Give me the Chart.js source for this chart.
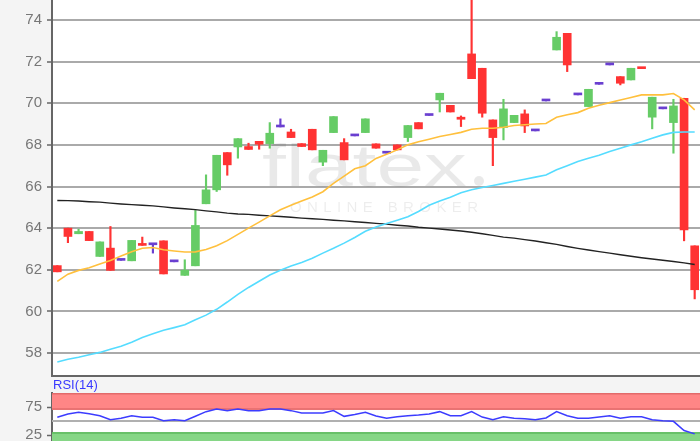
<!DOCTYPE html>
<html><head><meta charset="utf-8">
<script src="https://cdn.jsdelivr.net/npm/chart.js@4/dist/chart.umd.min.js"></script>
<style>
html,body{margin:0;padding:0;background:#f4f4f4;width:700px;height:441px;overflow:hidden;font-family:"Liberation Sans",Arial,sans-serif}
#main{position:absolute;left:0;top:0;width:700px;height:377px}
#rsi{position:absolute;left:0;top:378px;width:700px;height:80px}
#rsiLabel{position:absolute;left:53px;top:377px;font-size:13px;line-height:15px;color:#3a3aff}
</style></head><body>
<canvas id="main" width="700" height="377"></canvas>
<canvas id="rsi" width="700" height="80"></canvas>
<div id="rsiLabel">RSI(14)</div>
<script>
const sessions = [1,2,3,4,5,6,7,8,9,10,11,12,13,14,15,16,17,18,19,20,21,22,23,24,25,26,27,28,29,30,31,32,33,34,35,36,37,38,39,40,41,42,43,44,45,46,47,48,49,50,51,52,53,54,55,56,57,58,59,60,61];
const opens  = [62.2,64.0,63.73,63.84,62.64,63.04,62.45,62.43,63.26,63.2,63.39,62.38,61.73,62.19,65.17,65.84,67.63,67.9,67.92,68.17,68.06,68.86,68.62,68.06,68.75,67.17,68.59,68.11,68.43,68.59,68.05,67.6,68.0,68.35,69.07,69.41,70.16,69.9,69.33,72.37,71.68,69.2,68.83,69.07,69.49,68.67,70.11,72.56,73.36,70.4,69.84,70.91,71.84,71.28,71.12,71.7,69.33,69.73,69.07,70.24,63.15];
const closes = [61.9,63.6,63.84,63.4,63.34,61.97,62.45,63.41,63.17,63.2,61.8,62.38,61.98,64.13,65.84,67.5,67.04,68.3,67.78,68.03,68.56,68.86,68.35,67.92,67.76,67.74,69.36,67.28,68.43,69.25,67.84,67.6,67.76,68.93,68.77,69.41,70.48,69.58,69.23,71.18,69.52,68.35,69.73,69.42,68.91,68.67,70.11,73.17,71.84,70.4,70.67,70.91,71.84,70.96,71.68,71.66,70.29,69.73,69.87,63.92,61.04];
const highs  = [62.2,64.0,63.95,63.84,63.34,64.08,62.45,63.41,63.57,63.2,63.39,62.38,62.48,64.85,66.56,67.5,67.63,68.3,68.08,68.17,69.07,69.25,68.75,68.06,68.75,67.74,69.36,68.3,68.43,69.25,68.05,67.6,68.0,68.93,69.07,69.41,70.48,69.9,69.39,75.5,71.68,69.2,70.19,69.42,69.68,68.67,70.11,73.44,73.36,70.4,70.67,70.91,71.84,71.28,71.68,71.7,70.29,69.73,70.19,70.24,63.15];
const lows   = [61.9,63.3,63.73,63.4,62.64,61.97,62.45,62.43,63.17,62.8,61.8,62.38,61.73,62.19,65.17,65.76,66.54,67.36,67.78,67.79,67.84,68.86,68.35,67.92,67.76,67.0,68.59,67.28,68.43,68.59,67.84,67.6,67.76,68.16,68.77,69.41,69.58,69.58,68.88,71.18,69.33,67.0,68.24,69.07,68.59,68.67,70.11,72.56,71.52,70.4,69.84,70.91,71.84,70.88,71.12,71.66,68.77,69.73,67.6,63.39,60.6];
const ma20   = [61.44,61.79,61.97,62.1,62.28,62.45,62.66,62.87,63.03,63.07,62.96,62.9,62.85,62.86,62.97,63.15,63.4,63.7,64.0,64.29,64.59,64.88,65.1,65.3,65.5,65.75,66.15,66.5,66.85,67.0,67.35,67.55,67.76,68.0,68.15,68.27,68.4,68.5,68.6,68.75,68.8,68.8,68.85,68.93,68.97,69.0,69.03,69.33,69.45,69.55,69.76,69.9,70.03,70.16,70.28,70.4,70.4,70.4,70.47,70.16,69.68];
const ma50   = [57.57,57.7,57.8,57.92,58.03,58.18,58.33,58.52,58.74,58.92,59.09,59.22,59.36,59.6,59.82,60.1,60.45,60.82,61.15,61.45,61.75,61.98,62.18,62.35,62.55,62.8,63.03,63.28,63.55,63.85,64.05,64.22,64.38,64.55,64.8,65.1,65.3,65.48,65.7,65.84,65.95,66.05,66.15,66.25,66.35,66.45,66.55,66.8,67.0,67.2,67.36,67.5,67.68,67.84,68.0,68.15,68.32,68.48,68.6,68.62,68.62];
const ma200  = [65.33,65.32,65.3,65.27,65.25,65.2,65.16,65.13,65.1,65.07,65.02,64.97,64.93,64.89,64.83,64.78,64.72,64.68,64.66,64.62,64.59,64.56,64.52,64.48,64.45,64.42,64.38,64.35,64.31,64.27,64.23,64.19,64.14,64.1,64.04,64.0,63.96,63.91,63.86,63.8,63.73,63.65,63.57,63.52,63.45,63.38,63.3,63.22,63.12,63.03,62.95,62.87,62.8,62.72,62.65,62.58,62.52,62.46,62.4,62.33,62.25];
const rsi14  = [56.6,62.5,65.5,62.8,59.5,52.4,54.8,59.5,56.6,56.6,50.6,52.4,50.6,58.5,66.7,71.4,68.5,71.4,68.5,68.5,71.4,71.4,68.5,64.3,64.3,64.3,68.5,58.3,61.5,65.5,59.0,54.8,57.5,59.5,60.7,62.5,66.7,59.5,59.5,66.7,57.0,52.4,57.7,55.0,54.0,52.4,55.5,66.7,59.5,54.8,54.8,57.0,59.5,55.0,57.7,57.7,52.4,50.6,49.4,33.0,27.0];
const priceTicks = [58,60,62,64,66,68,70,72,74];
const rsiTicks = [25,75];
const rsiBands = {upper:70, lower:30, mid:50};

const UP='#66cc66', DOWN='#ff3333', FLAT='#6a3fd0';
const candleColor = ctx => {
  const i = ctx.dataIndex;
  const o = opens[i], c = closes[i];
  return c > o ? UP : (c < o ? DOWN : FLAT);
};

const whiteArea = {
  id:'whiteArea',
  beforeDraw(chart){
    const {ctx, chartArea:a} = chart;
    ctx.save(); ctx.fillStyle='#ffffff';
    ctx.fillRect(a.left, a.top, a.right-a.left, a.bottom-a.top);
    ctx.restore();
  }
};

const watermark = {
  id:'watermark',
  beforeDatasetsDraw(chart){
    const c = chart.ctx;
    c.save();
    c.fillStyle='rgba(0,0,0,0.085)';
    c.font='60px "Liberation Sans", Arial, sans-serif';
    const t='flatex';
    const w=c.measureText(t).width;
    c.translate(262,186);
    c.scale(205/w,1);
    c.fillText(t,0,0);
    c.restore();
    c.save();
    c.fillStyle='rgba(0,0,0,0.085)';
    c.beginPath(); c.arc(479,181,5,0,Math.PI*2); c.fill();
    c.fillStyle='rgba(0,0,0,0.07)';
    c.font='15px "Liberation Sans", Arial, sans-serif';
    const s='ONLINE BROKER';
    const chars=[...s];
    const total=chars.reduce((a,ch)=>a+c.measureText(ch).width,0);
    const gap=(188-total)/(chars.length-1);
    let x=290;
    chars.forEach(ch=>{ c.fillText(ch,x,212); x+=c.measureText(ch).width+gap; });
    c.restore();
  }
};

const bottomBorder = {
  id:'bottomBorder',
  afterDraw(chart){
    const {ctx, chartArea:a} = chart;
    ctx.save(); ctx.strokeStyle='#666'; ctx.lineWidth=2;
    ctx.beginPath(); ctx.moveTo(a.left-1, a.bottom+1); ctx.lineTo(a.right, a.bottom+1); ctx.stroke();
    ctx.restore();
  }
};

const fitAxis = s => { s.width=52; s.paddingTop=0; s.paddingBottom=0; };

new Chart(document.getElementById('main'), {
  type:'bar',
  data:{
    labels:sessions,
    datasets:[
      {type:'line', label:'MA20', data:ma20, borderColor:'#ffc03d', borderWidth:1.6, pointRadius:0, tension:0, order:0},
      {type:'line', label:'MA50', data:ma50, borderColor:'#55dcff', borderWidth:1.6, pointRadius:0, tension:0, order:0},
      {type:'line', label:'MA200', data:ma200, borderColor:'#222222', borderWidth:1.4, pointRadius:0, tension:0, order:0},
      {type:'bar', label:'Docht', data:lows.map((l,i)=>[l,highs[i]]), backgroundColor:candleColor, barThickness:1.5, grouped:false, order:2},
      {type:'bar', label:'Kerze', data:opens.map((o,i)=>[o,closes[i]]), backgroundColor:candleColor, barThickness:8, minBarLength:2, grouped:false, order:1}
    ]
  },
  options:{
    responsive:false, animation:false, devicePixelRatio:1,
    layout:{padding:{top:0,bottom:2,left:0,right:0}},
    plugins:{legend:{display:false}, tooltip:{enabled:false}},
    scales:{
      x:{display:false, offset:true, grid:{display:false}},
      y:{
        min:56.944, max:74.96,
        afterFit:fitAxis,
        afterBuildTicks:s=>{s.ticks=priceTicks.map(v=>({value:v}));},
        ticks:{color:'#777', font:{size:15, family:'"Liberation Sans", Arial'}, padding:5},
        grid:{color:'#aaaaaa', lineWidth:2, tickLength:5, tickColor:'#666', tickWidth:1.5},
        border:{color:'#666', width:2}
      }
    }
  },
  plugins:[whiteArea, watermark, bottomBorder]
});

const bands = {
  id:'bands',
  beforeDatasetsDraw(chart){
    const {ctx, chartArea:a, scales:{y}} = chart;
    const w=a.right-a.left;
    ctx.save();
    const yTop=y.getPixelForValue(100), y70=y.getPixelForValue(rsiBands.upper);
    ctx.fillStyle='#ff8686'; ctx.fillRect(a.left,yTop,w,y70-yTop);
    ctx.fillStyle='#e36a6a'; ctx.fillRect(a.left,yTop,w,1.5); ctx.fillRect(a.left,y70-1.5,w,1.5);
    const y30=y.getPixelForValue(rsiBands.lower), y0=y.getPixelForValue(0);
    ctx.fillStyle='#86d686'; ctx.fillRect(a.left,y30,w,y0-y30);
    ctx.fillStyle='#5cb85c'; ctx.fillRect(a.left,y30,w,1.5);
    const y50=y.getPixelForValue(rsiBands.mid);
    ctx.fillStyle='#b0b0b0'; ctx.fillRect(a.left,y50-1,w,2);
    ctx.restore();
  }
};

new Chart(document.getElementById('rsi'), {
  type:'line',
  data:{labels:sessions, datasets:[{label:'RSI(14)', data:rsi14, borderColor:'#3c3cff', borderWidth:1.5, pointRadius:0, tension:0}]},
  options:{
    responsive:false, animation:false, devicePixelRatio:1,
    layout:{padding:{top:15,bottom:9,left:0,right:0}},
    plugins:{legend:{display:false}, tooltip:{enabled:false}},
    scales:{
      x:{display:false, offset:true},
      y:{
        min:0, max:100,
        afterFit:fitAxis,
        afterBuildTicks:s=>{s.ticks=rsiTicks.map(v=>({value:v}));},
        ticks:{color:'#777', font:{size:15, family:'"Liberation Sans", Arial'}, padding:5},
        grid:{drawOnChartArea:false, tickLength:5, tickColor:'#666', tickWidth:1.5},
        border:{color:'#666', width:2}
      }
    }
  },
  plugins:[whiteArea, bands]
});
</script>
</body></html>
